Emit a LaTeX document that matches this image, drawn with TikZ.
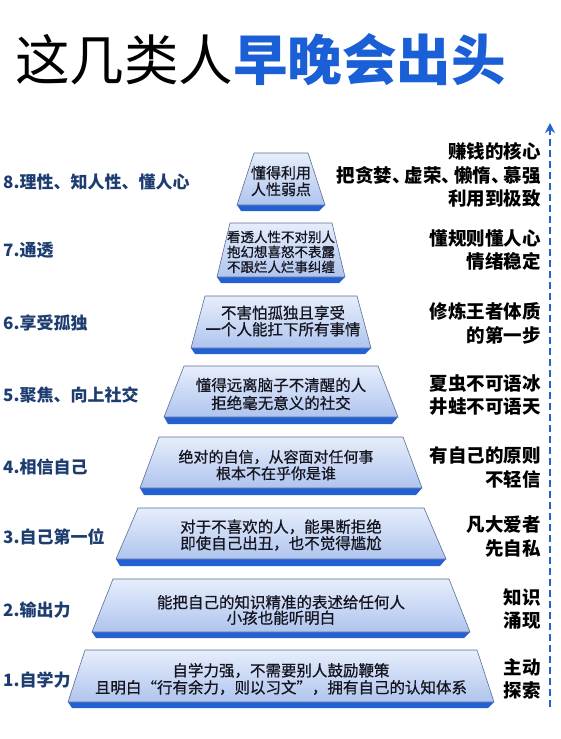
\documentclass[tikz,border=0pt]{standalone}
\usepackage{fontspec}
\setmainfont{Noto Sans CJK SC}
\newfontfamily\slabfont[FakeBold=0.7]{Noto Sans CJK SC}
\usetikzlibrary{arrows.meta}
\definecolor{navy}{HTML}{1D3C70}
\definecolor{titleblue}{HTML}{1A5FD6}
\definecolor{facetop}{HTML}{E6EEFB}
\definecolor{facebot}{HTML}{AFC4EE}
\definecolor{edgec}{HTML}{5B6E96}
\definecolor{stripc}{HTML}{2260D4}
\definecolor{arrowblue}{HTML}{2464C8}
\definecolor{ink}{HTML}{15151F}
\newcommand\pyrslab[5]{%
  \fill[stripc] (281-#5,#2) -- (281+#5,#2) -- (281+#5-6,#3) -- (281-#5+4,#3) -- cycle;
  \draw[edgec, line width=0.6pt, top color=facetop, bottom color=facebot]
    (281-#4,#1) -- (281+#4,#1) -- (281+#5,#2) -- (281-#5,#2) -- cycle;
}
\newcommand\tdun{、\kern-6pt}
\tikzset{
  ptext/.style={align=center, text=ink, inner sep=0pt},
  leftlab/.style={anchor=west, inner sep=0pt, text=navy, font=\bfseries\fontsize{17}{20}\selectfont},
  rightlab/.style={anchor=east, align=right, inner sep=0pt, text=black, font=\bfseries\fontsize{18.5}{23.5}\selectfont},
}
\begin{document}
\begin{tikzpicture}[x=1pt,y=-1pt]
\useasboundingbox (0,0) rectangle (560,739);
\fill[white] (0,0) rectangle (560,739);

% title
\node[anchor=west, inner sep=0pt, font=\fontsize{54.5}{60}\selectfont] (title) at (15,60)
  {这几类人\textcolor{titleblue}{\bfseries 早晚会出头}};

% pyramid slabs: ytop, ybottom, ystrip, half-width top, half-width bottom
\pyrslab{153}{205}{211}{27}{44}
\pyrslab{223}{277}{283}{51}{64}
\pyrslab{296}{348}{354}{76}{90}
\pyrslab{366}{417}{424}{97}{117}
\pyrslab{437}{488}{495}{122}{141}
\pyrslab{508}{559}{566}{143}{165}
\pyrslab{579}{632}{638}{168}{189}
\pyrslab{650}{702}{708}{196}{213}

% slab texts
\node[ptext, font=\slabfont\fontsize{15}{16.5}\selectfont] (t8) at (281,181) {懂得利用\\人性弱点};
\node[ptext, font=\slabfont\fontsize{13.5}{15}\selectfont] (t7) at (281,252) {看透人性不对别人\\抱幻想喜怒不表露\\不跟烂人烂事纠缠};
\node[ptext, font=\slabfont\fontsize{15.5}{16.5}\selectfont] (t6) at (283,321) {不害怕孤独且享受\\一个人能扛下所有事情};
\node[ptext, font=\slabfont\fontsize{15.5}{18}\selectfont] (t5) at (281,394) {懂得远离脑子不清醒的人\\拒绝毫无意义的社交};
\node[ptext, font=\slabfont\fontsize{15}{16.5}\selectfont] (t4) at (276,465) {绝对的自信，从容面对任何事\\根本不在乎你是谁};
\node[ptext, font=\slabfont\fontsize{15.5}{16.5}\selectfont] (t3) at (281,535) {对于不喜欢的人，能果断拒绝\\即使自己出丑，也不觉得尴尬};
\node[ptext, font=\slabfont\fontsize{15.5}{15.5}\selectfont] (t2) at (281,610) {能把自己的知识精准的表述给任何人\\小孩也能听明白};
\node[ptext, font=\slabfont\fontsize{15.5}{17}\selectfont] (t1) at (281,679) {自学力强，不需要别人鼓励鞭策\\且明白“行有余力，则以习文”，拥有自己的认知体系};

% left labels
\node[leftlab] (l8) at (3,182) {8.理性、知人性、懂人心};
\node[leftlab] (l7) at (3,250) {7.通透};
\node[leftlab] (l6) at (3,323) {6.享受孤独};
\node[leftlab] (l5) at (3,395) {5.聚焦、向上社交};
\node[leftlab] (l4) at (3,467) {4.相信自己};
\node[leftlab] (l3) at (3,537) {3.自己第一位};
\node[leftlab] (l2) at (3,610) {2.输出力};
\node[leftlab] (l1) at (3,680) {1.自学力};

% right labels
\node[rightlab] (r8) at (541,175) {赚钱的核心\\把贪婪\tdun 虚荣\tdun 懒惰\tdun 慕强\\利用到极致};
\node[rightlab] (r7) at (541,250) {懂规则懂人心\\情绪稳定};
\node[rightlab] (r6) at (541,323.5) {修炼王者体质\\的第一步};
\node[rightlab] (r5) at (541,395) {夏虫不可语冰\\井蛙不可语天};
\node[rightlab] (r4) at (541,467.5) {有自己的原则\\不轻信};
\node[rightlab] (r3) at (541,536.5) {凡大爱者\\先自私};
\node[rightlab] (r2) at (541,609) {知识\\涌现};
\node[rightlab] (r1) at (541,679) {主动\\探索};

% dashed arrow
\coordinate (abot) at (550,707);
\coordinate (atop) at (550,123);
\draw[arrowblue, line width=2.2pt, dash pattern=on 7pt off 4pt, -{Stealth[length=10pt,width=10pt]}] (abot) -- (atop);
\end{tikzpicture}
\end{document}
